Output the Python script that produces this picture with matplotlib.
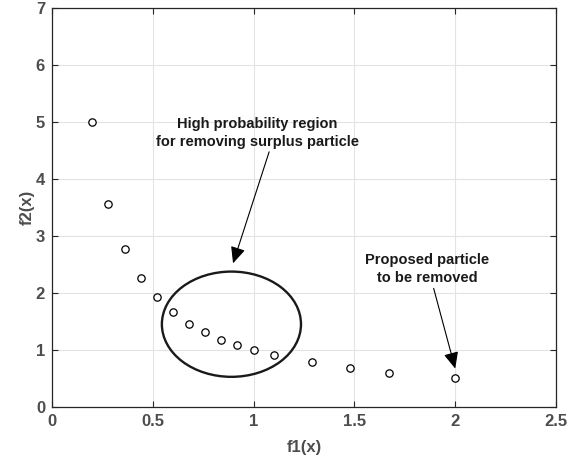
import matplotlib
matplotlib.use("Agg")
import matplotlib.pyplot as plt
from matplotlib.patches import Ellipse

# === Data ===
f1 = [0.20, 0.28, 0.36, 0.44, 0.52, 0.60, 0.68, 0.76, 0.84, 0.92, 1.00, 1.10,
      1.29, 1.48, 1.67, 2.00]
f2 = [5.00, 3.57, 2.78, 2.27, 1.93, 1.66, 1.46, 1.32, 1.18, 1.08, 1.00, 0.91,
      0.79, 0.68, 0.60, 0.50]
x_ticks = [0, 0.5, 1, 1.5, 2, 2.5]
x_tick_labels = ["0", "0.5", "1", "1.5", "2", "2.5"]
y_ticks = [0, 1, 2, 3, 4, 5, 6, 7]

note_region = "High probability region\nfor removing surplus particle"
note_remove = "Proposed particle\nto be removed"

plt.rcParams['font.family'] = ['Liberation Sans', 'DejaVu Sans']
plt.rcParams['font.weight'] = 'bold'

fig = plt.figure(figsize=(5.76, 4.62), dpi=100)
ax = fig.add_axes([0.0903, 0.1197, 0.875, 0.862])

ax.scatter(f1, f2, s=28, facecolors='white', edgecolors='black', linewidths=0.9, zorder=3)

# region of interest
ell = Ellipse((0.89, 1.45), 0.69, 1.85, fill=False, edgecolor='#1a1a1a', linewidth=1.7, zorder=2)
ax.add_patch(ell)

arrow = dict(arrowstyle='-|>,head_length=1.0,head_width=0.45', color='black', lw=0.8,
             shrinkA=0, shrinkB=0)
ax.annotate("", xy=(0.898, 2.52), xytext=(1.077, 4.48), arrowprops=arrow)
ax.text(1.02, 4.81, note_region, ha='center', va='center', fontsize=10.5,
        fontweight='bold', color='#1a1a1a', linespacing=1.4)
ax.annotate("", xy=(2.0, 0.67), xytext=(1.893, 2.08), arrowprops=arrow)
ax.text(1.86, 2.42, note_remove, ha='center', va='center', fontsize=10.5,
        fontweight='bold', color='#1a1a1a', linespacing=1.4)

ax.set_xlim(0, 2.5)
ax.set_ylim(0, 7)
ax.set_xticks(x_ticks)
ax.set_xticklabels(x_tick_labels)
ax.set_yticks(y_ticks)
ax.grid(True, color='#e3e3e3', linewidth=0.8)
ax.set_axisbelow(True)
ax.tick_params(direction='in', top=True, right=True, length=4, width=0.8,
               color='#262626', labelcolor='#4d4d4d', labelsize=12, pad=5)
for lab in ax.get_xticklabels() + ax.get_yticklabels():
    lab.set_fontweight('bold')
for s in ax.spines.values():
    s.set_color('#262626')
    s.set_linewidth(0.9)

ax.set_xlabel("f1(x)", fontsize=12, fontweight='bold', color='#4d4d4d', labelpad=8)
ax.set_ylabel("f2(x)", fontsize=12, fontweight='bold', color='#4d4d4d', labelpad=1)

fig.savefig("out.png", dpi=100)
